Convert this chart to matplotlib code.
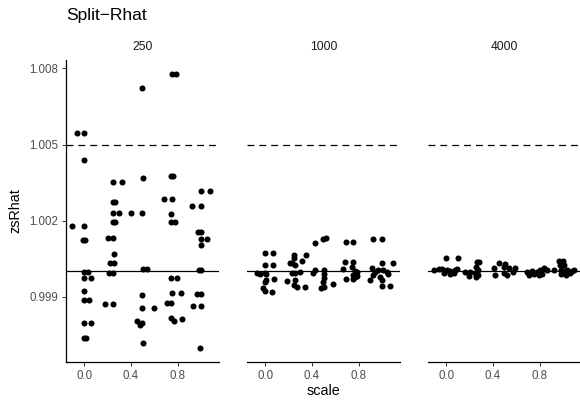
import matplotlib.pyplot as plt

plt.rcParams['font.family'] = ['Liberation Sans', 'DejaVu Sans']

# facet labels
sizes = ["250", "1000", "4000"]

# jittered scale values and zsRhat, one pair of lists per facet
scale_250 = [-0.065, 0.0, 0.0, -0.103, 0.0, -0.01, 0.006, 0.0, 0.034, 0.0, 0.06, 0.0, 0.0, 0.043,
             0.0, 0.06, 0.0, 0.01,
             0.249, 0.323, 0.249, 0.26, 0.243, 0.3, 0.249, 0.26, 0.206, 0.249, 0.254, 0.22, 0.254,
             0.214, 0.249, 0.177, 0.249,
             0.494, 0.5, 0.398, 0.497, 0.506, 0.535, 0.497, 0.497, 0.595, 0.449, 0.492, 0.477, 0.5,
             0.749, 0.783, 0.745, 0.76, 0.68, 0.751, 0.743, 0.74, 0.777, 0.74, 0.797, 0.749, 0.826,
             0.706, 0.743, 0.74, 0.771, 0.837,
             1.0, 1.077, 0.923, 0.997, 0.974, 1.0, 1.003, 1.049, 0.997, 0.98, 1.0, 0.963, 1.0,
             0.934, 1.0, 0.991]
rhat_250 = [1.00546, 1.00546, 1.00439, 1.00179, 1.00179, 1.00125, 1.00125, 0.99999, 0.99999,
            0.99974, 0.99974, 0.99924, 0.99888, 0.99888, 0.99796, 0.99796, 0.99736, 0.99736,
            1.00352, 1.00352, 1.00273, 1.00273, 1.00229, 1.00229, 1.00193, 1.00193, 1.00130,
            1.00130, 1.00067, 1.00032, 1.00032, 0.99992, 0.99992, 0.99872, 0.99872,
            1.00724, 1.00368, 1.00230, 1.00230, 1.00010, 1.00010, 0.99907, 0.99857, 0.99854,
            0.99805, 0.99795, 0.99789, 0.99720,
            1.00779, 1.00779, 1.00376, 1.00376, 1.00285, 1.00285, 1.00226, 1.00193, 1.00193,
            0.99975, 0.99975, 0.99915, 0.99915, 0.99874, 0.99874, 0.99815, 0.99805, 0.99813,
            1.00318, 1.00318, 1.00259, 1.00259, 1.00155, 1.00155, 1.00126, 1.00126, 1.00103,
            1.00004, 1.00004, 0.99911, 0.99911, 0.99865, 0.99865, 0.99699]

scale_1000 = [0.0, 0.065, 0.0, 0.065, -0.072, -0.049, 0.0, 0.009, 0.0, 0.009, 0.071, -0.021, 0.0, 0.06,
              0.243, 0.243, 0.347, 0.31, 0.209, 0.232, 0.252, 0.295, 0.224, 0.252, 0.186, 0.252,
              0.243, 0.267, 0.338,
              0.424, 0.495, 0.518, 0.424, 0.504, 0.409, 0.501, 0.501, 0.49, 0.576, 0.473, 0.501,
              0.688, 0.753, 0.682, 0.748, 0.662, 0.739, 0.768, 0.782, 0.748, 0.768, 0.782, 0.688, 0.753,
              0.925, 1.0, 0.997, 1.092, 0.911, 0.94, 0.968, 1.006, 1.04, 0.925, 0.983, 1.054, 0.897,
              0.997, 0.997, 1.069]
rhat_1000 = [1.00071, 1.00071, 1.00025, 1.00025, 0.99992, 0.99989, 0.99995, 0.99989, 0.99959,
             0.99966, 0.99970, 0.99933, 0.99924, 0.99920,
             1.00064, 1.00051, 1.00064, 1.00041, 1.00032, 1.00032, 1.00025, 0.99999, 0.99992,
             0.99992, 0.99963, 0.99966, 0.99946, 0.99937, 0.99939,
             1.00113, 1.00126, 1.00130, 1.00005, 1.00005, 0.99992, 0.99989, 0.99973, 0.99959,
             0.99949, 0.99933, 0.99937,
             1.00114, 1.00114, 1.00036, 1.00036, 1.00008, 1.00018, 1.00002, 0.99999, 0.99986,
             0.99979, 0.99982, 0.99970, 0.99970,
             1.00129, 1.00129, 1.00034, 1.00034, 1.00012, 0.99999, 1.00005, 1.00005, 0.99999,
             0.99986, 0.99979, 0.99989, 0.99966, 0.99966, 0.99942, 0.99942]

scale_4000 = [0.0, 0.097, -0.109, -0.066, -0.037, 0.006, 0.034, 0.077, 0.092, -0.023, 0.034, 0.063,
              0.263, 0.277, 0.257, 0.268, 0.163, 0.206, 0.249, 0.268, 0.191, 0.257,
              0.449, 0.506, 0.406, 0.491, 0.534, 0.592, 0.414, 0.491, 0.521, 0.572,
              0.692, 0.735, 0.778, 0.806, 0.84, 0.864, 0.706, 0.749, 0.792, 0.821,
              0.963, 1.001, 0.92, 0.972, 1.012, 0.978, 1.006, 1.035, 1.078, 1.092, 0.978, 1.021, 1.063]
rhat_4000 = [1.00051, 1.00051, 1.00005, 1.00008, 1.00010, 1.00005, 1.00002, 1.00005, 1.00008,
             0.99992, 0.99989, 0.99992,
             1.00038, 1.00038, 1.00018, 1.00005, 0.99999, 0.99999, 0.99992, 0.99986, 0.99982, 0.99979,
             1.00032, 1.00029, 1.00012, 1.00018, 1.00012, 1.00012, 0.99986, 0.99992, 0.99986, 0.99999,
             0.99999, 1.00002, 0.99999, 1.00005, 1.00012, 1.00005, 0.99986, 0.99989, 0.99986, 0.99989,
             1.00041, 1.00041, 1.00005, 1.00025, 1.00025, 1.00005, 1.00002, 1.00005, 1.00002,
             1.00005, 0.99989, 0.99986, 0.99992]

scales = [scale_250, scale_1000, scale_4000]
rhats = [rhat_250, rhat_1000, rhat_4000]

y_ticks = [0.999, 1.002, 1.005, 1.008]
x_ticks = [0.0, 0.4, 0.8]
ref_solid = 1.0
ref_dashed = 1.005

W, H = 580, 400
fig = plt.figure(figsize=(W / 100, H / 100), dpi=100)

lefts = [65.7, 246.7, 427.7]
pw = 153.6
top, bottom = 60, 362.3

for i, (lab, xs, ys) in enumerate(zip(sizes, scales, rhats)):
    ax = fig.add_axes([lefts[i] / W, 1 - bottom / H, pw / W, (bottom - top) / H])
    ax.axhline(ref_solid, color='black', lw=0.9, zorder=1)
    ax.axhline(ref_dashed, color='black', lw=0.9, linestyle=(0, (5.5, 4)), zorder=1)
    ax.scatter(xs, ys, s=19, color='black', linewidths=0, zorder=3)
    ax.set_xlim(-0.16, 1.156)
    ax.set_ylim(0.99642, 1.00833)
    ax.set_xticks(x_ticks)
    ax.set_xticklabels(["%.1f" % t for t in x_ticks])
    for s in ['top', 'right']:
        ax.spines[s].set_visible(False)
    ax.spines['bottom'].set_linewidth(0.9)
    ax.spines['left'].set_linewidth(0.9)
    ax.tick_params(colors='#333333', labelcolor='#4D4D4D', labelsize=8.3, length=2.7, width=0.7, pad=2.5)
    if i == 0:
        ax.set_yticks(y_ticks)
        ax.set_yticklabels(["%.3f" % t for t in y_ticks])
    else:
        ax.spines['left'].set_visible(False)
        ax.set_yticks([])
    fig.text((lefts[i] + pw / 2) / W, 1 - 50 / H, lab, ha='center', va='baseline',
             fontsize=8.8, color='#1A1A1A')

fig.text(66 / W, 1 - 20 / H, "Split\u2212Rhat", ha='left', va='baseline', fontsize=12.5, color='black')
fig.text(15 / W, 1 - 211 / H, "zsRhat", rotation=90, ha='center', va='center', fontsize=10.4)
fig.text(323 / W, 1 - 395 / H, "scale", ha='center', va='baseline', fontsize=10.4)

fig.savefig("out.png", dpi=100)
